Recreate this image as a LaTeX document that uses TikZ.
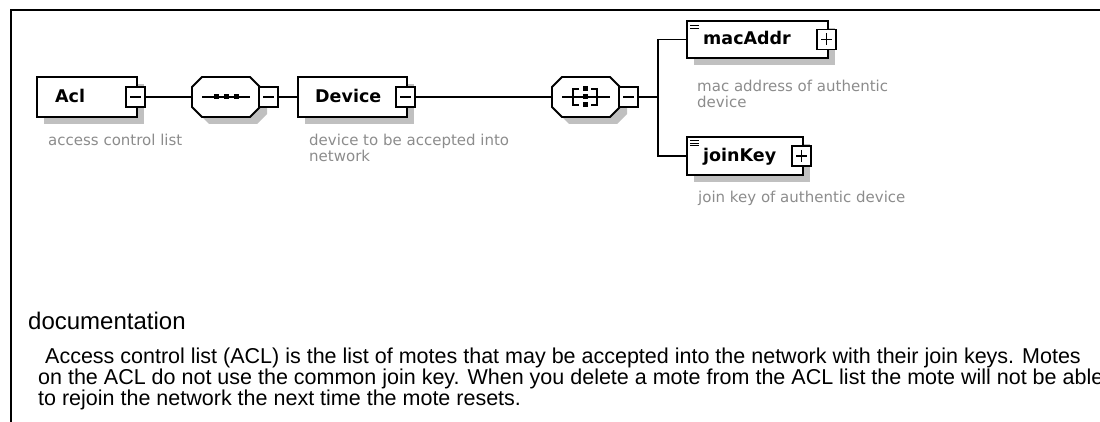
\documentclass[tikz,border=0pt]{standalone}
\usepackage{fontspec}
\setmainfont{Liberation Sans}
\newfontfamily\schemafont{DejaVu Sans}
\usetikzlibrary{shadows}
\definecolor{shadowgray}{RGB}{192,192,192}
\definecolor{descgray}{RGB}{140,140,140}
\begin{document}
\begin{tikzpicture}[x=1pt,y=-1pt,
  shade/.style={drop shadow={shadow xshift=7pt,shadow yshift=-7pt,fill=shadowgray,opacity=1}},
  elem/.style={rectangle,draw,line width=1.8pt,fill=white,inner sep=0pt,shade},
  compositor/.style={rectangle,draw=none,inner sep=0pt,minimum width=68pt,minimum height=40pt},
  togglebox/.style={rectangle,draw,line width=1.4pt,fill=white,inner sep=0pt,minimum width=19pt,minimum height=20pt},
  minus/.style={togglebox,path picture={
    \draw[line width=1.4pt] (path picture bounding box.center) +(-5.5,0) -- +(5.5,0);}},
  plus/.style={togglebox,path picture={
    \draw[line width=1.4pt] (path picture bounding box.center) +(-5.5,0) -- +(5.5,0)
      (path picture bounding box.center) +(0,-6) -- +(0,6);}},
  conn/.style={line width=1.6pt},
  elemname/.style={font=\schemafont\bfseries\fontsize{17.5}{20}\selectfont,anchor=base west,inner sep=0pt},
  desc/.style={font=\schemafont\fontsize{15}{16}\selectfont,text=descgray,anchor=base west,inner sep=0pt},
  docbody/.style={font=\fontsize{21.5}{21.5}\selectfont,anchor=base west,inner sep=0pt}
]
\useasboundingbox (0,0) rectangle (1100,422);

% outer frame (left and top edges)
\draw[line width=2pt] (11,430) -- (11,10) -- (1110,10);

% root element
\node[elem,minimum width=100pt,minimum height=40pt] (acl) at (87,97) {};
\node[elemname] (acllabel) at (55,103) {Acl};
\node[minus] (aclsq) at (135.5,97) {};
\node[desc] (acldesc) at (48,146) {access control list};

% compositors: octagonal outline with a drop shadow
\node[compositor] (seq) at (226,97) {};
\node[compositor] (choice) at (586,97) {};
\foreach \c in {seq,choice}{
  \fill[shadowgray] (\c.center) ++(7,7) +(-34,-10) -- +(-24,-20) -- +(24,-20) -- +(34,-10)
    -- +(34,10) -- +(24,20) -- +(-24,20) -- +(-34,10) -- cycle;
  \filldraw[fill=white,line width=1.8pt] (\c.center) +(-34,-10) -- +(-24,-20) -- +(24,-20) -- +(34,-10)
    -- +(34,10) -- +(24,20) -- +(-24,20) -- +(-34,10) -- cycle;
}

% sequence symbol
\node[minus] (seqsq) at (268.5,97) {};
\draw[conn] (seq.center) +(-24,0) -- +(24,0);
\foreach \dx in {-10,0,10}
  \fill (seq.center) ++(\dx,0) +(-2.5,-2.5) rectangle +(2.5,2.5);

% Device element
\node[elem,minimum width=109pt,minimum height=40pt] (device) at (352.5,97) {};
\node[elemname] (devlabel) at (315,103) {Device};
\node[minus] (devsq) at (405.5,97) {};
\node[desc] (devdesc1) at (309,146) {device to be accepted into};
\node[desc] (devdesc2) at (309,162) {network};

% choice symbol
\node[minus] (choicesq) at (628.5,97) {};
\draw[conn] (choice.center) +(-24,0) -- +(24,0);
\draw[line width=1.4pt] (choice.center)
  +(-7,-8) -- +(-13,-8) -- +(-13,8) -- +(-7,8)
  (choice.center) +(5,-8) -- +(11,-8) -- +(11,8) -- +(5,8);
\foreach \dy in {-8,0,8}
  \fill (choice.center) ++(-1,\dy) +(-2.5,-2.5) rectangle +(2.5,2.5);

% child elements
\node[elem,minimum width=141pt,minimum height=37pt] (macaddr) at (757.5,39.5) {};
\node[elemname] (maclabel) at (703,45) {macAddr};
\node[plus] (macsq) at (826.5,39.5) {};
\draw[line width=1pt] (690,25.5) -- (699,25.5) (690,28.5) -- (699,28.5);
\node[desc] (macdesc1) at (697,92) {mac address of authentic};
\node[desc] (macdesc2) at (697,108) {device};

\node[elem,minimum width=116pt,minimum height=38pt] (joinkey) at (745,156) {};
\node[elemname] (joinlabel) at (703,162) {joinKey};
\node[plus] (joinsq) at (801.5,156) {};
\draw[line width=1pt] (690,140.5) -- (699,140.5) (690,143.3) -- (699,143.3) (690,146) -- (699,146);
\node[desc] (joindesc) at (698,203) {join key of authentic device};

% connectors
\coordinate (fork) at (658,97);
\draw[conn] (aclsq.east) -- (seq.west);
\draw[conn] (seqsq.east) -- (device.west);
\draw[conn] (devsq.east) -- (choice.west);
\draw[conn] (choicesq.east) -- (fork);
\draw[conn] (macaddr.west) -| (fork) |- (joinkey.west);

% documentation text
\node[font=\fontsize{24}{24}\selectfont,anchor=base west,inner sep=0pt] (dochead) at (28,329) {documentation};
\node[docbody] (doc1) at (45,363) {Access control list (ACL) is the list of motes that may be accepted into the network with their join keys. Motes};
\node[docbody] (doc2) at (38,384) {on the ACL do not use the common join key. When you delete a mote from the ACL list the mote will not be able};
\node[docbody] (doc3) at (38,405) {to rejoin the network the next time the mote resets.};
\end{tikzpicture}
\end{document}
